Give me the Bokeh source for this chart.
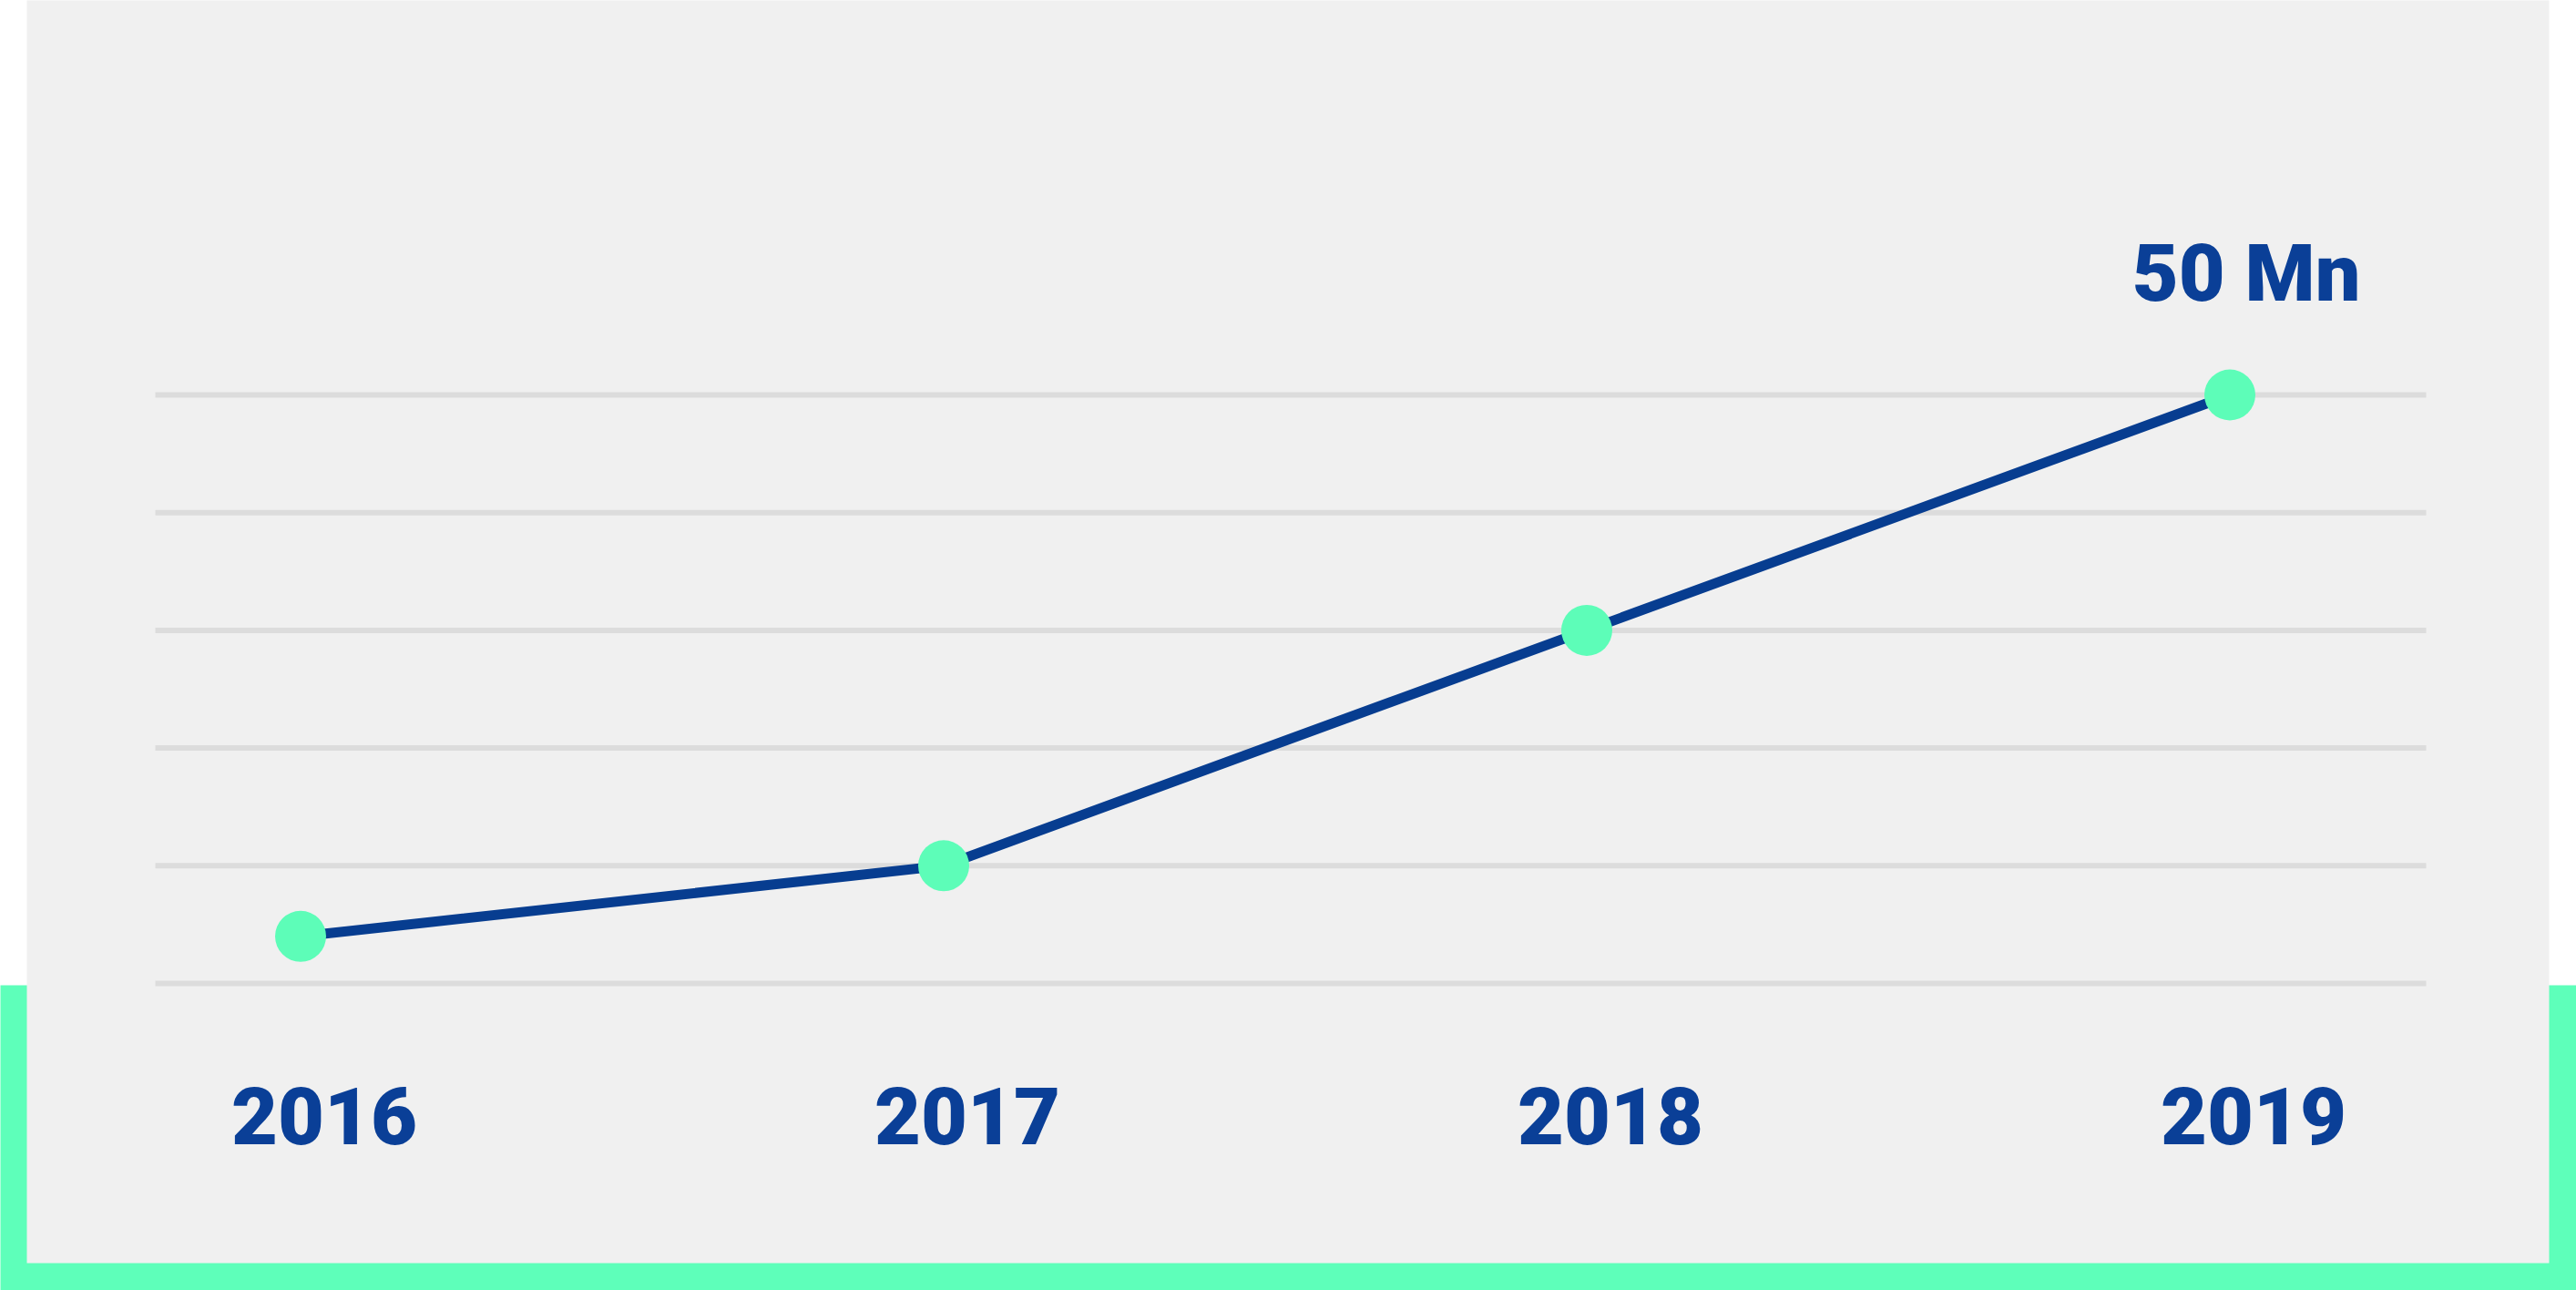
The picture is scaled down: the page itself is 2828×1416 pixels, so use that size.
from bokeh.plotting import figure
from bokeh.models import Range1d
from bokeh.core.properties import value
from bokeh.embed import file_html
from bokeh.resources import INLINE

# ---- data ----
years = [2016, 2017, 2018, 2019]
year_labels = ["2016", "2017", "2018", "2019"]
users_mn = [4, 10, 30, 50]
grid_values = [0, 10, 20, 30, 40, 50]
unit_label = "Mn"

# ---- styling ----
W, H = 2828, 1416
BLUE_TEXT = "#0a3f97"
BLUE_LINE = "#073d90"
MINT = "#5dfdb8"
GREEN = "#5effba"
PANEL = "#f0f0f0"
GRID = "#dcdcdc"
FONT = value("Roboto Black, Roboto")

# scale: pixels per year / per unit
SX = 706.0
SY = 12.92
X_MID = 2017.5
X_MID_PX = 1388.5
Y_ZERO_PX = 1079

x_start = X_MID - X_MID_PX / SX
x_range = Range1d(x_start, x_start + W / SX)
y_range = Range1d(-(H - Y_ZERO_PX) / SY, Y_ZERO_PX / SY)


def dx(px):
    return x_start + px / SX


def dy(py):
    return (Y_ZERO_PX - py) / SY


p = figure(width=W, height=H, x_range=x_range, y_range=y_range,
           output_backend="svg", toolbar_location=None,
           min_border=0, background_fill_color="white",
           border_fill_color="white", outline_line_color=None)
p.xaxis.visible = False
p.yaxis.visible = False
p.grid.visible = False

# decorative frame: green base band, grey panel on top
p.quad(left=[dx(-20)], right=[dx(2850)], top=[dy(1081)], bottom=[dy(1440)],
       fill_color=GREEN, line_color=None)
p.quad(left=[dx(29)], right=[dx(2798)], top=[dy(-20)], bottom=[dy(1386)],
       fill_color=PANEL, line_color=None)

# horizontal gridlines
p.segment(x0=[dx(170)] * len(grid_values), x1=[dx(2663)] * len(grid_values),
          y0=grid_values, y1=grid_values, line_color=GRID, line_width=6)

# series
p.line(years, users_mn, line_color=BLUE_LINE, line_width=11)
p.scatter(years, users_mn, size=56, fill_color=MINT, line_color=None)

# year labels
p.text(x=years, y=[0] * len(years), text=year_labels, text_font=FONT,
       text_font_style="bold", text_font_size="88px", text_color=BLUE_TEXT,
       text_align="center", text_baseline="alphabetic",
       x_offset=26, y_offset=145)

# final value callout
p.text(x=[years[-1]], y=[users_mn[-1]], text=[f"{users_mn[-1]} {unit_label}"],
       text_font=FONT, text_font_style="bold", text_font_size="88px",
       text_color=BLUE_TEXT, text_align="center", text_baseline="alphabetic",
       x_offset=18, y_offset=-134)

open("out.html", "w").write(file_html(p, INLINE))
